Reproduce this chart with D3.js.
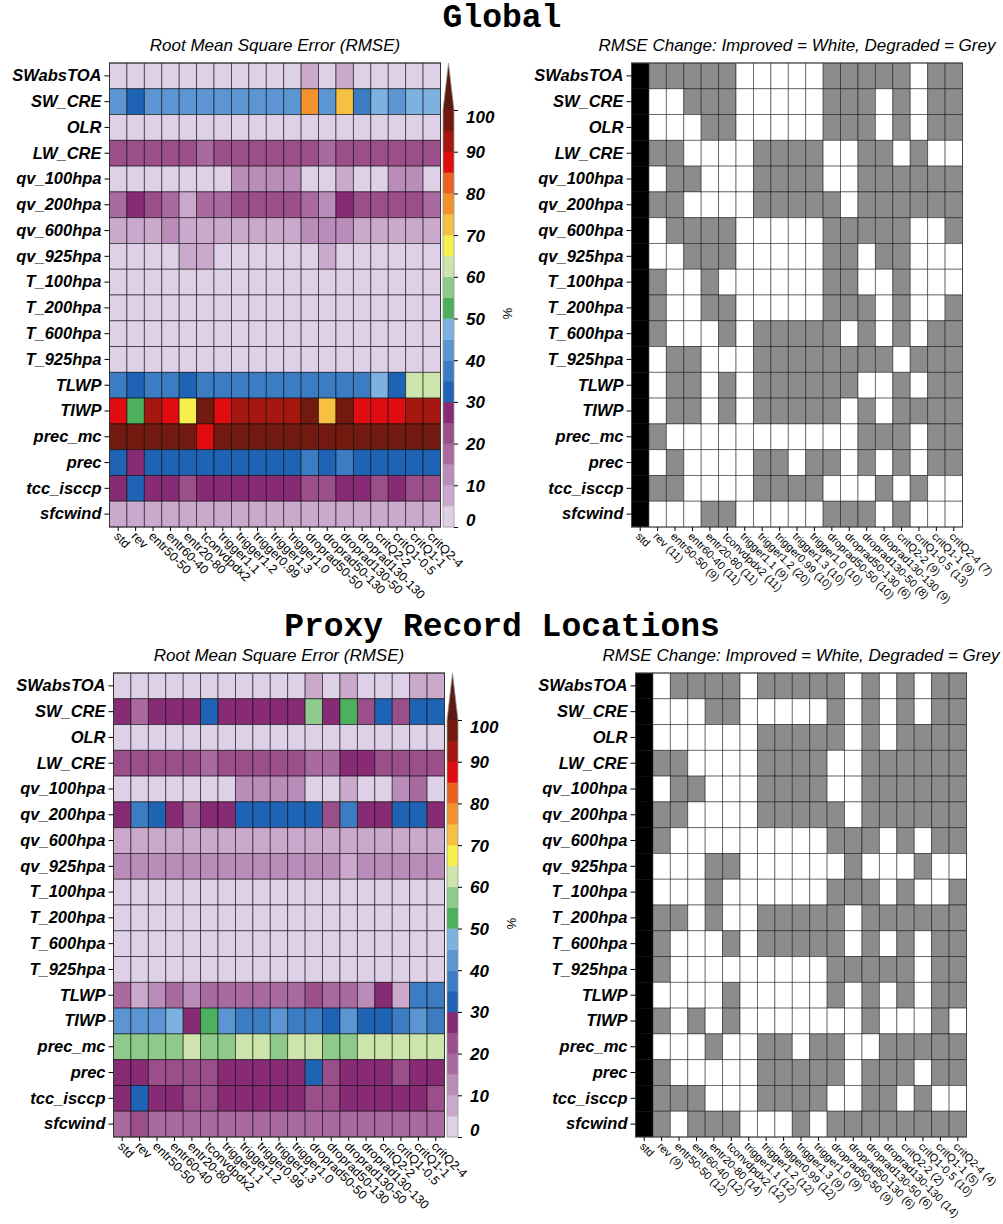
<!DOCTYPE html>
<html>
<head>
<meta charset="utf-8">
<script src="https://cdnjs.cloudflare.com/ajax/libs/d3/7.8.5/d3.min.js"></script>
<style>
  body { margin: 0; background: #fff; }
  svg { display: block; font-family: "Liberation Sans", Arial, sans-serif; }
</style>
</head>
<body>
<svg id="chart" width="1003" height="1224"></svg>
<script>
const variables = ["SWabsTOA", "SW_CRE", "OLR", "LW_CRE", "qv_100hpa", "qv_200hpa", "qv_600hpa", "qv_925hpa",
  "T_100hpa", "T_200hpa", "T_600hpa", "T_925hpa", "TLWP", "TIWP", "prec_mc", "prec", "tcc_isccp", "sfcwind"];

const experiments = ["std", "rev", "entr50-50", "entr60-40", "entr20-80", "tconvdpdx2", "trigger1.1", "trigger1.2",
  "trigger0.99", "trigger1.3", "trigger1.0", "droprad50-50", "droprad50-130", "droprad130-50", "droprad130-130",
  "critQ2-2", "critQ1-0.5", "critQ1-1", "critQ2-4"];

const globalChangeLabels = ["std", "rev (11)", "entr50-50 (9)", "entr60-40 (11)", "entr20-80 (11)", "tconvdpdx2 (11)",
  "trigger1.1 (9)", "trigger1.2 (20)", "trigger0.99 (10)", "trigger1.3 (10)", "trigger1.0 (10)", "droprad50-50 (10)",
  "droprad50-130 (6)", "droprad130-50 (8)", "droprad130-130 (9)", "critQ2-2 (9)", "critQ1-0.5 (13)", "critQ1-1 (9)", "critQ2-4 (7)"];

const proxyChangeLabels = ["std", "rev (9)", "entr50-50 (12)", "entr60-40 (12)", "entr20-80 (14)", "tconvdpdx2 (12)",
  "trigger1.1 (12)", "trigger1.2 (12)", "trigger0.99 (12)", "trigger1.3 (9)", "trigger1.0 (9)", "droprad50-50 (9)",
  "droprad50-130 (6)", "droprad130-50 (6)", "droprad130-130 (14)", "critQ2-2 (2)", "critQ1-0.5 (10)", "critQ1-1 (5)", "critQ2-4 (4)"];

// colour key: upper bounds of the bands (%), last colour is the >100 triangle
const colorBreaks = [5, 10, 15, 20, 25, 30, 35, 40, 45, 50, 55, 60, 65, 70, 75, 80, 85, 90, 95, 100];
const bandColors = ["#ddd0e7", "#caa9cd", "#ba8cb9", "#a96aa0", "#9a4f8b", "#872b74",
  "#1f64b4", "#3c7cc3", "#5b96d2", "#7db1e0", "#4cb05c", "#8fca8a", "#cde4ad",
  "#f6f04e", "#f6c142", "#f2922d", "#ea6220", "#e10c10", "#a5170f", "#721a10", "#5c1a10"];
const colorbarTicks = [0, 10, 20, 30, 40, 50, 60, 70, 80, 90, 100];

const rmseGlobal = [
  [3, 3, 3, 3, 3, 3, 3, 3, 3, 3, 3, 8, 3, 8, 3, 3, 3, 3, 3],
  [43, 33, 43, 43, 43, 43, 43, 43, 43, 43, 43, 78, 43, 73, 38, 48, 43, 48, 48],
  [3, 3, 3, 3, 3, 3, 3, 3, 3, 3, 3, 3, 3, 3, 3, 3, 3, 3, 3],
  [23, 23, 23, 23, 23, 18, 23, 23, 23, 23, 23, 23, 18, 23, 23, 23, 23, 23, 23],
  [3, 3, 3, 3, 3, 3, 3, 13, 13, 13, 13, 3, 3, 8, 3, 3, 13, 13, 3],
  [18, 28, 23, 18, 8, 18, 18, 23, 23, 23, 23, 18, 13, 28, 23, 23, 23, 23, 18],
  [8, 8, 8, 13, 8, 8, 8, 8, 8, 8, 8, 13, 13, 13, 8, 8, 8, 8, 8],
  [3, 3, 3, 3, 8, 8, 3, 3, 3, 3, 3, 3, 8, 3, 3, 3, 3, 3, 3],
  [3, 3, 3, 3, 3, 3, 3, 3, 3, 3, 3, 3, 3, 3, 3, 3, 3, 3, 3],
  [3, 3, 3, 3, 3, 3, 3, 3, 3, 3, 3, 3, 3, 3, 3, 3, 3, 3, 3],
  [3, 3, 3, 3, 3, 3, 3, 3, 3, 3, 3, 3, 3, 3, 3, 3, 3, 3, 3],
  [3, 3, 3, 3, 3, 3, 3, 3, 3, 3, 3, 3, 3, 3, 3, 3, 3, 3, 3],
  [38, 33, 38, 38, 33, 38, 38, 38, 38, 38, 38, 38, 38, 38, 38, 48, 33, 63, 63],
  [88, 53, 93, 88, 68, 98, 88, 93, 93, 93, 93, 98, 73, 98, 88, 88, 88, 93, 93],
  [98, 98, 98, 98, 98, 88, 98, 98, 98, 98, 98, 98, 98, 98, 98, 98, 98, 98, 98],
  [33, 28, 33, 33, 33, 33, 33, 33, 33, 33, 33, 38, 33, 38, 33, 33, 33, 33, 33],
  [28, 33, 28, 28, 23, 28, 28, 28, 28, 28, 28, 23, 23, 28, 28, 23, 28, 23, 23],
  [8, 8, 8, 8, 8, 8, 8, 8, 8, 8, 8, 8, 8, 8, 8, 8, 8, 8, 8]
];

const rmseProxy = [
  [3, 3, 3, 3, 3, 3, 3, 3, 3, 3, 3, 8, 3, 8, 3, 3, 3, 8, 8],
  [28, 18, 28, 28, 28, 33, 28, 28, 28, 28, 28, 58, 28, 53, 23, 33, 23, 33, 33],
  [3, 3, 3, 3, 3, 3, 3, 3, 3, 3, 3, 3, 3, 3, 3, 3, 3, 3, 3],
  [23, 23, 23, 23, 23, 18, 23, 23, 23, 23, 23, 18, 18, 28, 28, 23, 23, 23, 23],
  [3, 3, 3, 3, 3, 3, 3, 13, 13, 13, 13, 3, 3, 8, 3, 3, 13, 18, 3],
  [28, 38, 33, 28, 18, 28, 28, 33, 33, 33, 33, 33, 23, 38, 28, 28, 33, 33, 28],
  [8, 8, 8, 8, 8, 8, 8, 8, 8, 8, 8, 8, 8, 8, 8, 8, 8, 8, 8],
  [13, 13, 13, 13, 13, 13, 13, 13, 13, 13, 13, 13, 13, 8, 13, 13, 13, 13, 13],
  [3, 3, 3, 3, 3, 3, 3, 3, 3, 3, 3, 3, 3, 3, 3, 3, 3, 3, 3],
  [3, 3, 3, 3, 3, 3, 3, 3, 3, 3, 3, 3, 3, 3, 3, 3, 3, 3, 3],
  [3, 3, 3, 3, 3, 3, 3, 3, 3, 3, 3, 3, 3, 3, 3, 3, 3, 3, 3],
  [3, 3, 3, 3, 3, 3, 3, 3, 3, 3, 3, 3, 3, 3, 3, 3, 3, 3, 3],
  [18, 8, 13, 18, 13, 18, 18, 18, 18, 18, 18, 23, 18, 18, 13, 28, 8, 38, 38],
  [43, 43, 43, 48, 28, 53, 43, 38, 38, 43, 38, 38, 33, 43, 33, 33, 38, 43, 38],
  [58, 58, 58, 58, 63, 58, 58, 63, 63, 58, 63, 63, 58, 58, 63, 63, 63, 63, 63],
  [28, 28, 23, 23, 23, 23, 28, 28, 28, 28, 28, 33, 23, 28, 28, 28, 23, 28, 28],
  [28, 33, 28, 28, 23, 23, 28, 28, 28, 28, 28, 23, 23, 28, 28, 28, 28, 28, 23],
  [18, 23, 18, 18, 18, 18, 18, 18, 18, 18, 18, 18, 18, 18, 18, 18, 18, 18, 18]
];

// change vs std for columns 2..19: W = improved, G = degraded
const changeGlobal = [
  "GGGGGWWWWWGGGGGWGG", "WWGGGWWWWWGGGWGWGG", "WWWGGWWWWWGGGWGWGG", "GGWWWWGGGGWWGGWGWW",
  "WGGWWWGGGGWWGGGGGG", "GGWWWWGGGGGWGGGGGG", "WGGGGWWWWWGGGGGWWG", "WWGGGWWWWWGGWGGWWW",
  "GWWGWWWWWWGGWWGWWW", "GWWGGWWWWWGGGWGWWG", "GWWWGWGGGGGWGWGWGG", "WGGWWWGGGGGGGGWGGG",
  "WGGWGWGGGGGGWWGWGG", "WGGWGWGGGGGWGWGGGG", "GWWWWWWWWWWWGGGWGG", "WGWWWWGGWGGWGWGWGG",
  "GGWWWWGGGGWWWGWGWW", "WWWGGWWWWWGGGWGWWW"
];
const changeProxy = [
  "WGGGGWGGGGGWGWGWGG", "WWWGGWWWWWGWGWGWGG", "WWWWWWGGGGGWGWGGGG", "GGWWWWGGGGWWGGGGGG",
  "WGGWWWGGGGWWGGGGGG", "GGWWWWGGGGGWGGGGGG", "GWWWWWWWWWGGGWGWGG", "WWWGGWWWWWWGWWWGWW",
  "WWWGWWWWWWGGGWGWWG", "GGWGWWGGGGGWGGGGGG", "GWWWGWGGGGGWGWGWGG", "GWWWWWWWWWGGGGGWGG",
  "WWWWGWWWWWGWGWGWGG", "GWGWGWWWWWWWGWWWGW", "WWWGWWGGWGGWWGGGGG", "GWWWWWGGGGGWGGGWGG",
  "GGGWWWGGGGWWGGWGWW", "GWGGGWWWGWGGGGGGGG"
];

const svg = d3.select("#chart");
const gridW = 331, gridH = 464;
const color = d3.scaleThreshold().domain(colorBreaks).range(bandColors);

function rowAxis(g, y, x0) {
  const ax = g.append("g").attr("transform", `translate(${x0},0)`)
    .call(d3.axisLeft(y).tickSize(5).tickPadding(3));
  ax.select(".domain").remove();
  ax.selectAll("line").attr("stroke", "#000");
  ax.selectAll("text").attr("fill", "#000")
    .style("font", "italic bold 16.5px 'Liberation Sans', Arial, sans-serif");
}

function colAxis(g, x, y0, labels, size) {
  const ax = g.append("g").attr("transform", `translate(0,${y0})`)
    .call(d3.axisBottom(x).tickSize(4).tickFormat((d, i) => labels[i]));
  ax.select(".domain").remove();
  ax.selectAll("line").attr("stroke", "#000");
  ax.selectAll("text").attr("fill", "#000")
    .attr("x", 0).attr("y", 0).attr("dy", 0)
    .attr("text-anchor", "start")
    .attr("transform", "translate(-5,10) rotate(45)")
    .style("font-size", size + "px");
}

function drawRmse(x0, y0, values) {
  const g = svg.append("g");
  const x = d3.scaleBand().domain(experiments).range([x0, x0 + gridW]);
  const y = d3.scaleBand().domain(variables).range([y0, y0 + gridH]);
  const cells = [];
  values.forEach((row, r) => row.forEach((v, c) => cells.push({ r: variables[r], c: experiments[c], v })));
  g.selectAll("rect.cell").data(cells).join("rect")
    .attr("class", "cell")
    .attr("x", (d) => x(d.c)).attr("y", (d) => y(d.r))
    .attr("width", x.bandwidth()).attr("height", y.bandwidth())
    .attr("fill", (d) => color(d.v))
    .attr("stroke", "#000").attr("stroke-opacity", 0.6).attr("stroke-width", 0.9);
  g.append("rect").attr("x", x0).attr("y", y0).attr("width", gridW).attr("height", gridH)
    .attr("fill", "none").attr("stroke", "#333").attr("stroke-width", 1);
  rowAxis(g, y, x0);
  colAxis(g, x, y0 + gridH, experiments, 12.5);
  g.append("text").attr("x", x0 + gridW / 2).attr("y", y0 - 12)
    .attr("text-anchor", "middle").style("font", "italic 17px 'Liberation Sans', Arial, sans-serif")
    .text("Root Mean Square Error (RMSE)");

  // colour key
  const bx = x0 + gridW + 2.5, bw = 11;
  const cy = d3.scaleLinear().domain([0, 100]).range([y0 + gridH, y0 + 47]);
  const lows = [0].concat(colorBreaks.slice(0, -1));
  const key = g.append("g");
  key.selectAll("rect").data(colorBreaks).join("rect")
    .attr("x", bx).attr("width", bw)
    .attr("y", (d) => cy(d)).attr("height", (d, i) => cy(lows[i]) - cy(d) + 0.3)
    .attr("fill", (d, i) => bandColors[i]);
  key.append("path")
    .attr("d", `M${bx},${cy(100)} L${bx + bw / 2},${y0} L${bx + bw},${cy(100)} Z`)
    .attr("fill", bandColors[bandColors.length - 1]);
  key.append("path")
    .attr("d", `M${bx},${cy(0)} L${bx},${cy(100)} L${bx + bw / 2},${y0} L${bx + bw},${cy(100)} L${bx + bw},${cy(0)} Z`)
    .attr("fill", "none").attr("stroke", "#999").attr("stroke-width", 0.8);
  const kax = key.append("g").attr("transform", `translate(${bx + bw},0)`)
    .call(d3.axisRight(cy).tickValues(colorbarTicks).tickSize(4).tickPadding(8));
  kax.select(".domain").remove();
  kax.selectAll("line").attr("stroke", "#000");
  kax.selectAll("text").attr("fill", "#000")
    .style("font", "italic bold 17px 'Liberation Sans', Arial, sans-serif")
    .attr("dy", (d) => d === 0 ? "-0.1em" : d === 100 ? "0.75em" : "0.35em");
  key.append("text")
    .attr("transform", `translate(${bx + 60},${cy(50) - 5}) rotate(90)`)
    .attr("text-anchor", "middle")
    .style("font-size", "13px").text("%");
}

function drawChange(x0, y0, changes, labels) {
  const g = svg.append("g");
  const x = d3.scaleBand().domain(experiments).range([x0, x0 + gridW]);
  const y = d3.scaleBand().domain(variables).range([y0, y0 + gridH]);
  const cells = [];
  changes.forEach((row, r) => {
    cells.push({ r: variables[r], c: experiments[0], s: "B" });
    row.split("").forEach((s, c) => cells.push({ r: variables[r], c: experiments[c + 1], s }));
  });
  const fills = { B: "#000", W: "#fff", G: "#8c8c8c" };
  g.selectAll("rect.cell").data(cells).join("rect")
    .attr("class", "cell")
    .attr("x", (d) => x(d.c)).attr("y", (d) => y(d.r))
    .attr("width", x.bandwidth()).attr("height", y.bandwidth())
    .attr("fill", (d) => fills[d.s])
    .attr("stroke", "#000").attr("stroke-opacity", 0.5).attr("stroke-width", 0.9);
  g.append("rect").attr("x", x0).attr("y", y0).attr("width", gridW).attr("height", gridH)
    .attr("fill", "none").attr("stroke", "#444").attr("stroke-width", 1);
  rowAxis(g, y, x0);
  colAxis(g, x, y0 + gridH, labels, 11);
  g.append("text").attr("x", x0 + gridW / 2).attr("y", y0 - 12)
    .attr("text-anchor", "middle").style("font", "italic 17px 'Liberation Sans', Arial, sans-serif")
    .text("RMSE Change: Improved = White, Degraded = Grey");
}

function title(y, txt) {
  svg.append("text").attr("x", 502).attr("y", y).attr("text-anchor", "middle")
    .style("font", "bold 33px 'Liberation Mono', 'Courier New', monospace")
    .text(txt);
}

title(27, "Global");
drawRmse(109.5, 63, rmseGlobal);
drawChange(631.5, 63, changeGlobal, globalChangeLabels);

title(636, "Proxy Record Locations");
drawRmse(113.5, 673, rmseProxy);
drawChange(635.5, 673, changeProxy, proxyChangeLabels);
</script>
</body>
</html>
